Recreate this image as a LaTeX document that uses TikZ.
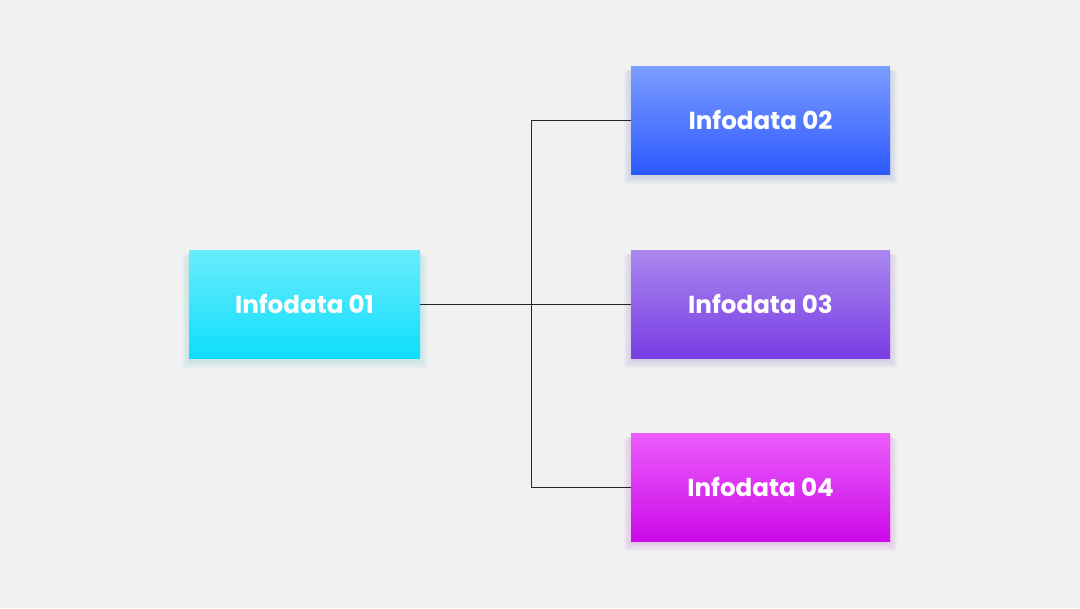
\documentclass[tikz,border=0pt]{standalone}
\usepackage{fontspec}
\setmainfont{Poppins}
\usepackage{xcolor}
\usetikzlibrary{calc, positioning}

\definecolor{bgGray}{HTML}{F1F1F1}
\definecolor{cyanTop}{HTML}{68EDFD}
\definecolor{cyanBot}{HTML}{10DDFB}
\definecolor{blueTop}{HTML}{7B9CFF}
\definecolor{blueBot}{HTML}{2D5AFF}
\definecolor{violetTop}{HTML}{A987EE}
\definecolor{violetBot}{HTML}{793DE4}
\definecolor{pinkTop}{HTML}{EC5DFC}
\definecolor{pinkBot}{HTML}{CB0AE8}

\tikzset{
    infobox/.style={minimum height=2.7cm, inner sep=0pt, text=white,
        font=\fontsize{17.5}{20}\selectfont\bfseries},
    leftbox/.style={infobox, minimum width=5.775cm},
    rightbox/.style={infobox, minimum width=6.475cm},
    link/.style={draw=black!85, line width=0.6pt}
}

\begin{document}
\begin{tikzpicture}
    % 1. Nền
    \fill[bgGray] (0,0) rectangle (27,-15.2);
    \useasboundingbox (0,0) rectangle (27,-15.2);

    % 2. Bóng mờ dưới các hộp
    \foreach \cx/\cy/\w/\col in {7.6125/7.6/5.775/cyanBot, 19.0125/3.0/6.475/blueBot,
                                 19.0125/7.6/6.475/violetBot, 19.0125/12.175/6.475/pinkBot}{
        \foreach \k in {1,...,6}{
            \fill[\col!60!gray, opacity=0.035]
                ($(\cx,-\cy)+(-\w/2-0.03*\k,-1.35-0.05-0.035*\k)$) rectangle
                ($(\cx,-\cy)+(\w/2+0.03*\k,1.35-0.05-0.015*\k)$);
        }
    }

    % 3. Các hộp
    \node[leftbox, top color=cyanTop, bottom color=cyanBot] (info1) at (7.6125,-7.6) {Infodata 01};
    \node[rightbox, top color=blueTop, bottom color=blueBot] (info2) at (19.0125,-3.0) {Infodata 02};
    \node[rightbox, top color=violetTop, bottom color=violetBot] (info3) at (19.0125,-7.6) {Infodata 03};
    \node[rightbox, top color=pinkTop, bottom color=pinkBot] (info4) at (19.0125,-12.175) {Infodata 04};

    % 4. Đường nối
    \coordinate (split) at (13.275,-7.6);
    \draw[link] (info1.east) -- (info3.west);
    \draw[link] (info2.west) -- (split |- info2.west) -- (split |- info4.west) -- (info4.west);
\end{tikzpicture}
\end{document}
